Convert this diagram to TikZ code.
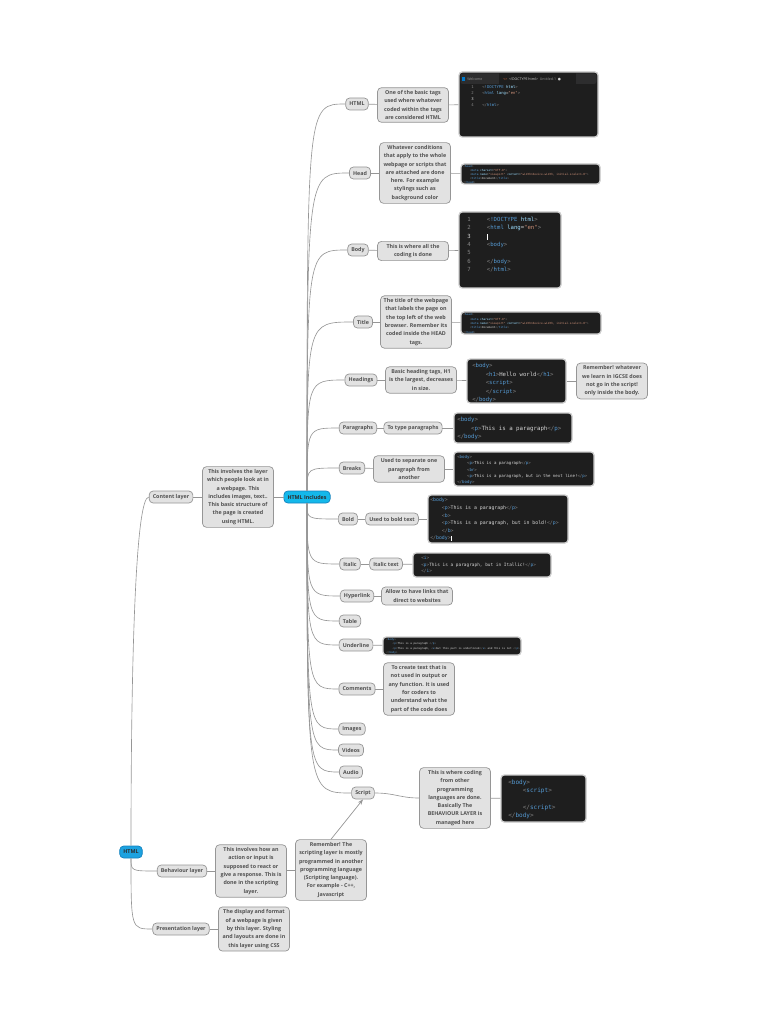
\documentclass[tikz,border=0pt]{standalone}
\usepackage{fontspec}
\setmainfont{Open Sans}
\newfontfamily\codefont{DejaVu Sans Mono}
\newfontfamily\symfont{DejaVu Sans}
\usetikzlibrary{arrows.meta,positioning,fit,calc}
\definecolor{mapFill}{RGB}{226,226,226}
\definecolor{mapEdge}{RGB}{150,150,150}
\definecolor{mapText}{RGB}{80,80,80}
\definecolor{mapLine}{RGB}{150,150,150}
\definecolor{mapCyan}{RGB}{20,184,234}
\definecolor{mapBlue}{RGB}{28,162,224}
\definecolor{mapCyanDark}{RGB}{20,130,190}
\definecolor{mapDark}{RGB}{45,45,45}
\definecolor{vsBack}{RGB}{30,30,30}
\definecolor{vsTab}{RGB}{45,45,46}
\definecolor{vsFrame}{RGB}{205,205,205}
\definecolor{vsTag}{RGB}{86,156,214}
\definecolor{vsPunct}{RGB}{128,128,128}
\definecolor{vsText}{RGB}{212,212,212}
\definecolor{vsAttr}{RGB}{156,220,254}
\definecolor{vsStr}{RGB}{206,145,120}
\definecolor{vsNum}{RGB}{133,133,133}
\definecolor{vsDim}{RGB}{150,150,150}
\definecolor{vsOrange}{RGB}{227,110,60}
\definecolor{vsIcon}{RGB}{0,122,204}
\newcommand{\otag}[1]{\textcolor{vsPunct}{<}\textcolor{vsTag}{#1}\textcolor{vsPunct}{>}}
\newcommand{\ctag}[1]{\textcolor{vsPunct}{</}\textcolor{vsTag}{#1}\textcolor{vsPunct}{>}}
\newcommand{\ind}{\hspace*{2.4em}}
\newcommand{\lno}[2][2.5em]{\makebox[#1][l]{\textcolor{vsNum}{#2}}}
\newcommand{\cur}{\textcolor{white}{\rule[-0.25em]{0.08em}{1.05em}}}
\newcommand{\cf}[2]{\codefont\fontsize{#1}{#2}\selectfont}
\newcommand{\doctype}{\textcolor{vsPunct}{<}\textcolor{vsTag}{!DOCTYPE} \textcolor{vsAttr}{html}\textcolor{vsPunct}{>}}
\newcommand{\htmlopen}{\textcolor{vsPunct}{<}\textcolor{vsTag}{html} \textcolor{vsAttr}{lang}=\textcolor{vsStr}{"en"}\textcolor{vsPunct}{>}}
\newcommand{\headcode}{\otag{head}\\
  \ind\textcolor{vsPunct}{<}\textcolor{vsTag}{meta} \textcolor{vsAttr}{charset}=\textcolor{vsStr}{"UTF-8"}\textcolor{vsPunct}{>}\\
  \ind\textcolor{vsPunct}{<}\textcolor{vsTag}{meta} \textcolor{vsAttr}{name}=\textcolor{vsStr}{"viewport"} \textcolor{vsAttr}{content}=\textcolor{vsStr}{"width=device-width, initial-scale=1.0"}\textcolor{vsPunct}{>}\\
  \ind\otag{title}Document\ctag{title}\\
  \ctag{head}}

\begin{document}
\begin{tikzpicture}[x=0.25mm, y=-0.25mm,
    topic/.style={rectangle, rounded corners=1mm, draw=mapEdge, fill=mapFill,
                  text=mapText, font=\fontsize{3.8}{5.9}\selectfont\bfseries,
                  inner xsep=2.6pt, inner ysep=1.5pt, minimum height=3mm, line width=0.5pt},
    note/.style={topic, align=center, minimum width=17.75mm, inner xsep=1.5pt, inner ysep=2pt},
    hub/.style={topic, fill=mapCyan, draw=mapCyanDark, text=mapDark},
    code/.style={rectangle, rounded corners=0.8mm, draw=vsFrame, fill=vsBack,
                 line width=0.9pt, inner sep=0pt},
    src/.style={anchor=north west, inner sep=0pt, align=left, text=vsText},
    br/.style={draw=mapLine, line width=0.45pt},
    arr/.style={-{Stealth[length=4pt]}, mapLine, line width=0.5pt}
  ]
  \useasboundingbox (0,0) rectangle (768,1024);

  \node[hub, fill=mapBlue] (html) at (131,852) {HTML};
  \node[topic] (cont) at (171,497) {Content layer};
  \node[topic] (beh) at (182,871) {Behaviour layer};
  \node[topic] (pres) at (181,929) {Presentation layer};
  \node[note] (contd) at (238,497) {This involves the layer\\which people look at in\\a webpage. This\\includes images, text..\\This basic structure of\\the page is created\\using HTML.};
  \node[hub] (inc) at (307,497) {HTML Includes};
  \node[note] (nbeh) at (251,871) {This involves how an\\action or input is\\supposed to react or\\give a response. This is\\done in the scripting\\layer.};
  \node[note] (nrem) at (331,870) {Remember! The\\scripting layer is mostly\\programmed in another\\programming language\\(Scripting language).\\For example - C++,\\Javascript};
  \node[note] (npres) at (254,929) {The display and format\\of a webpage is given\\by this layer. Styling\\and layouts are done in\\this layer using CSS};

  \node[topic] (chtml) at (357,104) {HTML};
  \node[topic] (chead) at (360,173) {Head};
  \node[topic] (cbody) at (358,250) {Body};
  \node[topic] (ctitle) at (363,322) {Title};
  \node[topic] (chdg) at (361,380) {Headings};
  \node[topic] (cpara) at (358,428) {Paragraphs};
  \node[topic] (cbreak) at (352,468) {Breaks};
  \node[topic] (cbold) at (348,519) {Bold};
  \node[topic] (cital) at (350,564) {Italic};
  \node[topic] (clink) at (357,596) {Hyperlink};
  \node[topic] (ctable) at (350,621) {Table};
  \node[topic] (cunder) at (356,645) {Underline};
  \node[topic] (ccomm) at (357,689) {Comments};
  \node[topic] (cimg) at (352,729) {Images};
  \node[topic] (cvid) at (351,750) {Videos};
  \node[topic] (caud) at (351,772) {Audio};
  \node[topic] (cscript) at (363,793) {Script};

  \node[note] (nhtml) at (413,105) {One of the basic tags\\used where whatever\\coded within the tags\\are considered HTML};
  \node[note] (nhead) at (415,173) {Whatever conditions\\that apply to the whole\\webpage or scripts that\\are attached are done\\here. For example\\stylings such as\\background color};
  \node[note] (nbody) at (413,251) {This is where all the\\coding is done};
  \node[note] (ntitle) at (416,322) {The title of the webpage\\that labels the page on\\the top left of the web\\browser. Remember its\\coded inside the HEAD\\tags.};
  \node[note] (nhdg) at (421,380) {Basic heading tags, H1\\is the largest, decreases\\in size.};
  \node[note] (nhdg2) at (612,381) {Remember! whatever\\we learn in IGCSE does\\not go in the script!\\only inside the body.};
  \node[topic] (npara) at (413,428) {To type paragraphs};
  \node[note] (nbreak) at (409,469) {Used to separate one\\paragraph from\\another};
  \node[topic] (nbold) at (392,519) {Used to bold text};
  \node[topic] (nital) at (386,564) {Italic text};
  \node[note] (nlink) at (417,596) {Allow to have links that\\direct to websites};
  \node[note] (ncomm) at (419,689) {To create text that is\\not used in output or\\any function. It is used\\for coders to\\understand what the\\part of the code does};
  \node[note] (nscript) at (455,798) {This is where coding\\from other\\programming\\languages are done.\\Basically The\\BEHAVIOUR LAYER is\\managed here};

  \node[code, fit={(459,72) (598,137)}] (khtml) {};
  \fill[vsTab, rounded corners=0.6mm] (460.5,73.5) rectangle (596.5,84);
  \fill[vsBack] (499,73.5) rectangle (576,84);
  \fill[vsIcon] (461.5,77) rectangle (464.5,81);
  \node[anchor=west, inner sep=0pt, font=\fontsize{2.5}{3}\selectfont, text=vsDim] (welc) at (467,79) {Welcome};
  \node[anchor=west, inner sep=0pt, font=\fontsize{2.5}{3}\selectfont, text=vsText] (tabt) at (503,79) {\textcolor{vsOrange}{<>}\ \ <!DOCTYPE html>\ \ \textcolor{vsDim}{Untitled-1}\ \ {\symfont ●}};
  \node[src, font={\cf{2.8}{4.25}}] (thtml) at (471,85.5) {\lno[2.8em]{1}\doctype\\ \lno[2.8em]{2}\htmlopen\\ \lno[2.8em]{\textcolor{vsText}{3}}\\ \lno[2.8em]{4}\ctag{html}};

  \node[code, fit={(461,164) (600,184)}] (khead) {};
  \node[src, font={\cf{2}{2.83}}] (thead) at (463,165.5) {\headcode};

  \node[code, fit={(459,212) (561,288)}] (kbody) {};
  \node[src, font={\cf{4}{5.9}}] (tbody) at (467,217) {\lno[3.5em]{1}\doctype\\ \lno[3.5em]{2}\htmlopen\\ \lno[3.5em]{\textcolor{vsText}{3}}\cur\\ \lno[3.5em]{4}\otag{body}\\ \lno[3.5em]{5}\\ \lno[3.5em]{6}\ctag{body}\\ \lno[3.5em]{7}\ctag{html}};

  \node[code, fit={(461,312) (601,334)}] (ktitle) {};
  \node[src, font={\cf{2}{3.1}}] (ttitle) at (463,313.5) {\headcode};

  \node[code, fit={(467,359) (566,403)}] (khdg) {};
  \node[src, font={\cf{4}{6}}] (thdg) at (472,363.4) {\otag{body}\\ \ind\otag{h1}Hello world\ctag{h1}\\ \ind\otag{script}\\ \ind\ctag{script}\\ \ctag{body}};

  \node[code, fit={(454,413) (572,443)}] (kpara) {};
  \node[src, font={\cf{4.1}{6}}] (tpara) at (457,417.3) {\otag{body}\\ \ind\otag{p}This is a paragraph\ctag{p}\\ \ctag{body}};

  \node[code, fit={(454,452) (594,486)}] (kbreak) {};
  \node[src, font={\cf{2.9}{4.5}}] (tbreak) at (457,455) {\otag{body}\\ \ind\otag{p}This is a paragraph\ctag{p}\\ \ind\otag{br}\\ \ind\otag{p}This is a paragraph, but in the next line!\ctag{p}\\ \ctag{body}};

  \node[code, fit={(428,495) (568,543)}] (kbold) {};
  \node[src, font={\cf{3.45}{5.4}}] (tbold) at (430,497.9) {\otag{body}\\ \ind\otag{p}This is a paragraph\ctag{p}\\ \ind\otag{b}\\ \ind\otag{p}This is a paragraph, but in bold!\ctag{p}\\ \ind\ctag{b}\\ \ctag{body}\cur};

  \node[code, fit={(413,553) (551,577)}] (kital) {};
  \node[src, font={\cf{3.15}{4.6}}] (tital) at (421,556) {\otag{i}\\ \otag{p}This is a paragraph, but in Itallic!\ctag{p}\\ \ctag{i}};

  \node[code, fit={(383,637) (521,655)}] (kunder) {};
  \node[src, font={\cf{1.9}{3.05}}] (tunder) at (386,638.3) {\otag{body}\\ \ind\otag{p}This is a paragraph \ctag{p}\\ \ind\otag{p}This is a paragraph, \otag{u}but this part is underlined\ctag{u} and this is not \ctag{p}\\ \ctag{body}};

  \node[code, fit={(501,775) (586,822)}] (kscript) {};
  \node[src, font={\cf{4.3}{5.9}}] (tscript) at (508,779.7) {\otag{body}\\ \ind\otag{script}\\ \mbox{}\\ \ind\ctag{script}\\ \ctag{body}};

  \draw[br] (html.north) .. controls (131,650) and (136,497) .. (cont.west);
  \draw[br] (html.south) .. controls (131,871) .. (beh.west);
  \draw[br] (html.south) .. controls (131,929) .. (pres.west);
  \foreach \c in {chtml,chead,cbody,ctitle,chdg,cpara,cbreak,cbold,cital,clink,ctable,cunder,ccomm,cimg,cvid,caud,cscript}
    \draw[br] (inc) .. controls (\c.west -| inc) .. (\c.west);
  \foreach \a/\b in {cont/contd, contd/inc, beh/nbeh, nbeh/nrem, pres/npres,
                     chtml/nhtml, nhtml/khtml, chead/nhead, nhead/khead, cbody/nbody, nbody/kbody,
                     ctitle/ntitle, ntitle/ktitle, chdg/nhdg, nhdg/khdg, khdg/nhdg2,
                     cpara/npara, npara/kpara, cbreak/nbreak, nbreak/kbreak, cbold/nbold, nbold/kbold,
                     cital/nital, nital/kital, clink/nlink, cunder/kunder, ccomm/ncomm, nscript/kscript}
    \draw[br] (\a) -- (\b);
  \draw[br] (cscript.east) .. controls (395,793) and (400,798) .. (nscript.west);
  \draw[arr] (nrem.north) -- (cscript.south);
\end{tikzpicture}
\end{document}
